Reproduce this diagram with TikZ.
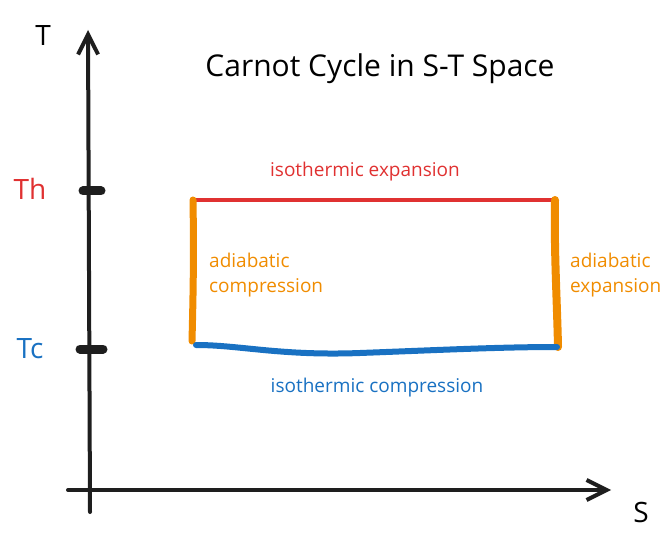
\documentclass[tikz,border=0pt]{standalone}
\usepackage{fontspec}
\setmainfont{Open Sans}
\usetikzlibrary{arrows.meta}
\definecolor{exred}{HTML}{E03131}
\definecolor{exorange}{HTML}{F08C00}
\definecolor{exblue}{HTML}{1971C2}
\definecolor{exblack}{HTML}{1E1E1E}
\tikzset{
  axis/.style={exblack, line width=4pt, line cap=round, -{Straight Barb[length=20pt,width=20pt,line width=4pt]}},
  tick/.style={exblack, line width=9pt, line cap=round},
  lbl/.style={font=\fontsize{19}{25}\selectfont, inner sep=0pt},
  big/.style={font=\fontsize{28}{30}\selectfont, inner sep=0pt},
}
\begin{document}
\begin{tikzpicture}[x=1pt,y=-1pt]
\useasboundingbox (0,0) rectangle (671,545);
% axes
\coordinate (ybot) at (90,512);
\coordinate (ytop) at (88,30);
\coordinate (xl) at (68,490);
\coordinate (xr) at (611,490);
\draw[axis] (ybot) -- (ytop);
\draw[axis] (xl) -- (xr);
\node[big] (Tlab) at (43,36) {T};
\node[big] (Slab) at (641,512) {S};
% ticks
\coordinate (th1) at (83,191); \coordinate (th2) at (101,191);
\coordinate (tc1) at (80,349); \coordinate (tc2) at (103,349);
\draw[tick] (th1) -- (th2);
\draw[tick] (tc1) -- (tc2);
\node[big, exred] (Th) at (30,189) {Th};
\node[big, exblue] (Tc) at (30,349) {Tc};
% title
\node[font=\fontsize{30}{34}\selectfont, inner sep=0pt] (title) at (380,69) {Carnot Cycle in S-T Space};
% cycle corners
\coordinate (A) at (193,200);
\coordinate (B) at (555,200);
\coordinate (C) at (557,347);
\coordinate (D) at (196,345);
\draw[exred, line width=4pt, line cap=round] (A) -- (B);
\draw[exorange, line width=7pt, line cap=round] (A) .. controls (194,260) and (193,300) .. (192,341);
\draw[exorange, line width=8pt, line cap=round] (B) .. controls (554,250) and (557,300) .. (558,347);
\draw[exblue, line width=6pt, line cap=round] (D) .. controls (240,345) and (280,356) .. (360,353) .. controls (440,350) and (500,347) .. (C);
% labels
\node[lbl, exred] (l1) at (365,172) {isothermic expansion};
\node[lbl, exblue] (l2) at (377,388) {isothermic compression};
\node[lbl, exorange, anchor=west, align=left] (l3) at (209,275) {adiabatic\\compression};
\node[lbl, exorange, anchor=west, align=left] (l4) at (570,275) {adiabatic\\expansion};
\end{tikzpicture}
\end{document}
